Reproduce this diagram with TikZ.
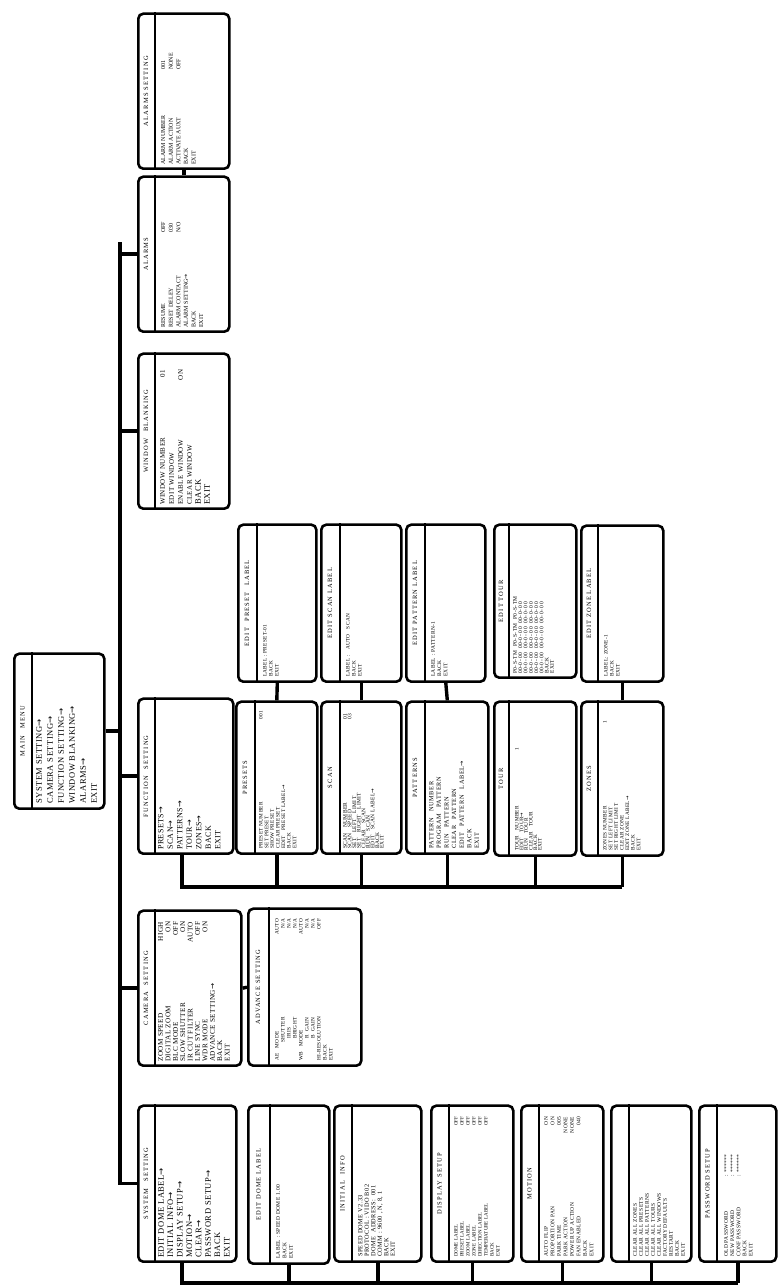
\documentclass[tikz,border=0pt]{standalone}
\usepackage{fontspec}
\setmainfont{Liberation Serif}[LetterSpace=6]
\newfontfamily\arrfont{DejaVu Sans}
\usetikzlibrary{calc}
\newcommand\ra{{\arrfont →}}
\newcommand\kr[2]{\makebox[\linewidth][l]{#1\hfill#2}}
\newcommand\kc[3]{\makebox[#1][l]{#2}#3}
\newcommand\fs[2]{\fontsize{#1}{#2}\selectfont}
\newcommand\menu[7]{%
  \node[mbx, minimum width=#4, minimum height=#5, anchor=north west] (#1) at (#2,-#3) {};
  \draw[sep] ($(#1.north west)+(0,-#6)$) -- ($(#1.north east)+(0,-#6)$);
  \node[ttl] (#1-t) at ($(#1.north)+(0,-#6/2)$) {#7};
}
\tikzset{
  mbx/.style={draw, line width=2.6pt, rounded corners=5pt, inner sep=0pt, fill=white},
  sep/.style={line width=2.4pt},
  ttl/.style={inner sep=0pt, font=\fs{6.5}{7}\addfontfeature{LetterSpace=18}},
  body/.style={inner sep=0pt, anchor=north west, align=left},
  conn/.style={line width=3.4pt}
}
\begin{document}
\begin{tikzpicture}[x=1pt,y=1pt,rotate=90,transform shape]
\useasboundingbox (0,0) rectangle (1285,-781);
% ---------- main menu
\menu{main}{475}{13}{155}{90}{19}{MAIN\quad MENU}
\node[body, text width=145, font=\fs{8.5}{11}] (main-b) at ($(main.north west)+(6,-23)$)
 {SYSTEM SETTING\ra\\CAMERA SETTING\ra\\FUNCTION SETTING\ra\\WINDOW BLANKING\ra\\ALARMS\ra\\EXIT};
% ---------- top level
\menu{sys}{22}{137}{156}{98}{18}{SYSTEM\quad SETTING}
\node[body, text width=146, font=\fs{8.5}{9.4}] (sys-b) at ($(sys.north west)+(5,-21)$)
 {EDIT DOME LABEL\ra\\INITIAL INFO\ra\\DISPLAY SETUP\ra\\MOTION\ra\\CLEAR\ra\\PASSWORD SETUP\ra\\BACK\\EXIT};
\menu{cam}{218}{137}{155}{103}{18}{CAMERA\quad SETTING}
\node[body, text width=140, font=\fs{7.2}{7.4}] (cam-b) at ($(cam.north west)+(5,-21)$)
 {\kr{ZOOM SPEED}{HIGH}\\\kr{DIGITAL ZOOM}{ON}\\\kr{BLC MODE}{OFF}\\\kr{SLOW SHUTTER}{ON}\\\kr{IR CUT FILTER}{AUTO}\\\kr{LINE SYNC}{OFF}\\\kr{WDR MODE}{ON}\\ADVANCE SETTING\ra\\BACK\\EXIT};
\menu{fun}{430}{137}{155}{95}{18}{FUNCTION\quad SETTING}
\node[body, text width=145, font=\fs{8}{9.5}] (fun-b) at ($(fun.north west)+(5,-21)$)
 {PRESETS\ra\\SCAN\ra\\PATTERNS\ra\\TOUR\ra\\ZONES\ra\\BACK\\EXIT};
\menu{win}{775}{137}{155}{91}{18}{WINDOW\quad BLANKING}
\node[body, text width=135, font=\fs{7}{9}] (win-b) at ($(win.north west)+(5,-23)$)
 {\kr{WINDOW NUMBER}{01}\\EDIT WINDOW\\\kr{ENABLE WINDOW}{ON}\\CLEAR WINDOW\\{\fs{8.5}{9}BACK}\\{\fs{8.5}{9}EXIT}};
\menu{alm}{952}{137}{155}{91}{18}{ALARMS}
\node[body, text width=120, font=\fs{6}{7.6}\addfontfeature{LetterSpace=0}] (alm-b) at ($(alm.north west)+(5,-24)$)
 {\kc{95pt}{RESUME}{OFF}\\\kc{95pt}{RESET DELEY}{030}\\\kc{95pt}{ALARM CONTACT}{N/O}\\ALARM SETTING\ra\\BACK\\EXIT};
\menu{alms}{1115}{137}{155}{91}{18}{ALARMS SETTING}
\node[body, text width=120, font=\fs{6}{7.6}\addfontfeature{LetterSpace=0}] (alms-b) at ($(alms.north west)+(5,-24)$)
 {\kc{95pt}{ALARM NUMBER}{001}\\\kc{95pt}{ALARM ACTION}{NONE}\\\kc{95pt}{ACTIVATE AUXT}{OFF}\\BACK\\EXIT};
% ---------- system setting children
\menu{dome}{20}{247}{158}{81}{23}{EDIT DOME LABEL}
\node[body, text width=140, font=\fs{5.5}{6.5}] (dome-b) at ($(dome.north west)+(6,-29)$)
 {LABEL : SPEED DOME 1.00\\BACK\\EXIT};
\menu{info}{22}{333}{156}{87}{19}{INITIAL\quad INFO}
\node[body, text width=140, font=\fs{6.3}{6.5}] (info-b) at ($(info.north west)+(6,-25)$)
 {SPEED DOME V2.33\\PROTOCOL : VIDO B02\\DOME\ \ ADDRESS:\ \ 001\\COMM : 9600 , N, 8, 1\\BACK\\EXIT};
\menu{disp}{22}{430}{156}{82}{19}{DISPLAY SETUP}
\node[body, text width=140, font=\fs{5}{6}\addfontfeature{LetterSpace=0}] (disp-b) at ($(disp.north west)+(6,-24)$)
 {\kr{DOME LABEL}{OFF}\\\kr{PRESET LABEL}{OFF}\\\kr{ZOOM LABEL}{OFF}\\\kr{ZONE LABEL}{OFF}\\\kr{DIRECTION LABEL}{OFF}\\\kr{TEMPERATURE LABEL}{OFF}\\BACK\\EXIT};
\menu{mot}{22}{520}{156}{82}{19}{MOTION}
\node[body, text width=140, font=\fs{5.5}{6.5}] (mot-b) at ($(mot.north west)+(6,-24)$)
 {\kr{AUTO FLIP}{ON}\\\kr{PROPORTION PAN}{ON}\\\kr{PARK TIME}{005}\\\kr{PARK ACTION}{NONE}\\\kr{POWER UP ACTION}{NONE}\\\kr{FAN ENABLED}{040}\\BACK\\EXIT};
\menu{clr}{22}{610}{156}{80}{19}{}
\node[body, text width=140, font=\fs{5.5}{6}] (clr-b) at ($(clr.north west)+(6,-23)$)
 {CLEAR ALL ZONES\\CLEAR ALL PRESETS\\CLEAR ALL PATTERNS\\CLEAR ALL TOURS\\CLEAR ALL WINDOWS\\FACTORY DEFAULTS\\RESTART\\BACK\\EXIT};
\menu{pwd}{22}{698}{156}{77}{19}{PASSWORD SETUP}
\node[body, text width=140, font=\fs{5.5}{6.2}] (pwd-b) at ($(pwd.north west)+(6,-26)$)
 {\kc{80pt}{OLD PASSWORD}{: ******}\\\kc{80pt}{NEW PASSWORD}{: ******}\\\kc{80pt}{CONF PASSWORD}{: ******}\\BACK\\EXIT};
% ---------- camera child
\menu{adv}{218}{247}{157}{113}{22}{ADVANCE SETTING}
\node[body, text width=142, font=\fs{5.3}{6}] (adv-b) at ($(adv.north west)+(6,-28)$)
 {\kr{AE\quad MODE}{AUTO}\\\kr{\hspace{18pt}SHUTTER}{N/A}\\\kr{\hspace{22pt}IRIS}{N/A}\\\kr{\hspace{22pt}BRIGHT}{N/A}\\\kr{WB\quad MODE}{AUTO}\\\kr{\hspace{22pt}R\ \ GAIN}{N/A}\\\kr{\hspace{22pt}B\ \ GAIN}{N/A}\\\kr{HI-RESOLUTION}{OFF}\\BACK\\EXIT};
% ---------- function children
\menu{pre}{430}{235}{152}{81}{20}{PRESETS}
\node[body, text width=138, font=\fs{5.3}{5.6}] (pre-b) at ($(pre.north west)+(6,-24)$)
 {\kr{PRESET NUMBER}{001}\\SET PRESET\\SHOW PRESET\\CLEAR PRESET\\EDIT\quad PRESET LABEL\ra\\BACK\\EXIT};
\menu{scn}{430}{320}{152}{80}{20}{SCAN}
\node[body, text width=135, font=\fs{5.5}{4.6}] (scn-b) at ($(scn.north west)+(6,-23)$)
 {\kr{SCAN\quad NUMBER}{01}\\\kr{SCAN\quad SPEED}{03}\\SET\quad LEFT\quad LIMIT\\SET\quad RIGHT\quad LIMIT\\CLEAR\quad SCAN\\RUN\quad SCAN\\EDIT\quad SCAN LABEL\ra\\BACK\\EXIT};
\menu{pat}{430}{405}{152}{82}{20}{PATTERNS}
\node[body, text width=138, font=\fs{6.3}{7.6}\addfontfeature{LetterSpace=10}] (pat-b) at ($(pat.north west)+(6,-24)$)
 {PATTERN\quad NUMBER\\PROGRAM\quad PATTERN\\RUN\quad PATTERN\\CLEAR\quad PATTERN\\EDIT\quad PATTERN\quad LABEL\ra\\BACK\\EXIT};
\menu{tour}{428}{493}{154}{82}{16}{TOUR}
\node[body, text width=138, font=\fs{5.3}{4.6}] (tour-b) at ($(tour.north west)+(6,-22)$)
 {\kc{100pt}{TOUR\quad NUMBER}{1}\\EDIT\quad TOUR\ra\\RUN\quad TOUR\\CLEAR\quad TOUR\\BACK\\EXIT};
\menu{zone}{428}{580}{154}{82}{18}{ZONES}
\node[body, text width=130, font=\fs{5.3}{5.6}] (zone-b) at ($(zone.north west)+(6,-23)$)
 {\kr{ZONES NUMBER}{1}\\SET LEFT LIMIT\\SET RIGHT LIMIT\\CLEAR ZONE\\EDIT ZONE LABEL\ra\\BACK\\EXIT};
% ---------- label editors
\menu{epl}{602}{237}{157}{78}{20}{EDIT\quad PRESET\quad LABEL}
\node[body, text width=140, font=\fs{5.3}{6}] (epl-b) at ($(epl.north west)+(6,-26)$)
 {LABEL : PRESET-01\\BACK\\EXIT};
\menu{esl}{602}{320}{157}{80}{20}{EDIT SCAN LABEL}
\node[body, text width=140, font=\fs{5.3}{6}] (esl-b) at ($(esl.north west)+(6,-26)$)
 {LABEL :\quad AUTO\quad SCAN\\BACK\\EXIT};
\menu{eptl}{602}{405}{157}{79}{20}{EDIT PATTERN LABEL}
\node[body, text width=140, font=\fs{5.5}{6.3}] (eptl-b) at ($(eptl.north west)+(6,-26)$)
 {LABEL : PATTERN-1\\BACK\\EXIT};
\menu{etour}{606}{493}{153}{82}{16}{EDIT TOUR}
\node[body, text width=145, font=\fs{5.5}{5.3}\addfontfeature{LetterSpace=8}] (etour-b) at ($(etour.north west)+(5,-20)$)
 {P0-S-TM\ \ P0-S-TM\ \ P0-S-TM\\00-0- 00\ \ 00-0- 00\ \ 00-0- 00\\00-0- 00\ \ 00-0- 00\ \ 00-0- 00\\00-0- 00\ \ 00-0- 00\ \ 00-0- 00\\00-0- 00\ \ 00-0- 00\ \ 00-0- 00\\00-0- 00\ \ 00-0- 00\ \ 00-0- 00\\BACK\\EXIT};
\menu{ezl}{602}{580}{156}{82}{18}{EDIT ZONE LABEL}
\node[body, text width=140, font=\fs{5.3}{6}] (ezl-b) at ($(ezl.north west)+(6,-24)$)
 {LABEL: ZONE-1\\BACK\\EXIT};
% ---------- connectors
\coordinate (busL) at (100,-120);
\coordinate (busR) at (1043,-120);
\draw[conn] (busL) -- (busR);
\draw[conn] (main.south) -- (main.south |- busL);
\foreach \n in {sys,cam,fun,win,alm} \draw[conn] (\n.north) -- (\n.north |- busL);
\draw[conn] (alm.east) -- (alms.west);
\draw[conn] (cam.south) -- (adv.north);
% system bus
\coordinate (sbus) at (2,-182);
\draw[conn] (sys.west |- sbus) -- (sbus) -- (sbus |- pwd.west);
\foreach \n in {dome,info,disp,mot,clr,pwd} \draw[conn] (\n.west) -- (\n.west -| sbus);
% function bus
\coordinate (fbus) at (398,-182);
\draw[conn] (fun.west |- fbus) -- (fbus) -- (fbus |- zone.west);
\foreach \n in {pre,scn,pat,tour,zone} \draw[conn] (\n.west) -- (\n.west -| fbus);
\draw[conn] (pre.east) -- (epl.west);
\draw[conn] (scn.east) -- (esl.west);
\draw[conn] (pat.east) -- (eptl.west);
\draw[conn] (zone.east) -- (ezl.west);
\end{tikzpicture}
\end{document}
